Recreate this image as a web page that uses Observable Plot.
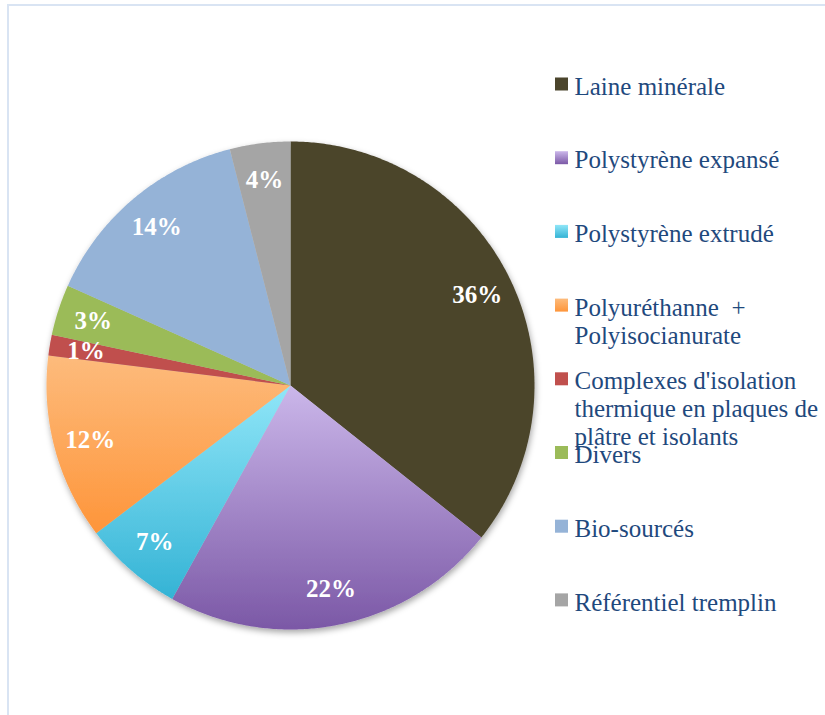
<!DOCTYPE html>
<html>
<head>
<meta charset="utf-8">
<script src="https://cdn.jsdelivr.net/npm/d3@7"></script>
<script src="https://cdn.jsdelivr.net/npm/@observablehq/plot@0.6"></script>
<style>
  html, body { margin: 0; padding: 0; background: #fff; }
  #wrap { position: relative; width: 825px; height: 715px; overflow: hidden; }
  #frame { position: absolute; left: 7px; top: 4px; right: -4px; bottom: -4px;
           border-top: 2px solid #d9e4f3; border-left: 2px solid #d9e4f3; }
  #chart { position: absolute; left: 0; top: 0; }
  #chart text { white-space: pre; }
</style>
</head>
<body>
<div id="wrap"><div id="frame"></div><div id="chart"></div></div>
<script>
// ---- data ----
const categories = [
  "Laine minérale",
  "Polystyrène expansé",
  "Polystyrène extrudé",
  "Polyuréthanne  +\nPolyisocianurate",
  "Complexes d'isolation\nthermique en plaques de\nplâtre et isolants",
  "Divers",
  "Bio-sourcés",
  "Référentiel tremplin"
];
// shares
const values = [35.7, 22.35, 6.6, 12.3, 1.37, 3.37, 14.3, 4.0];
// percentages printed on the slices
const labels = ["36%", "22%", "7%", "12%", "1%", "3%", "14%", "4%"];
const colorsTop = ["#4b452c", "#cbb7ea", "#90e6f8", "#fdbb7c", "#c0504d", "#9bbb59", "#95b3d7", "#a5a5a5"];
const colorsBottom = ["#4b452c", "#7b58a6", "#34b3d5", "#fe953a", "#c0504d", "#9bbb59", "#95b3d7", "#a5a5a5"];

// ---- layout ----
const W = 825, H = 715;
const cx = 290, cy = 385, R = 244, labelR = 0.85 * R;
const legX = 555, legSq = 13, legTextX = 574, legY0 = 84, legStep = 73.7;
const font = "'Liberation Serif', 'DejaVu Serif', serif";
const legFont = 25, lineH = 28;

const fills = categories.map((c, i) =>
  colorsTop[i] === colorsBottom[i] ? colorsTop[i] : `url(#grad${i})`);

const rows = categories.map((name, i) => ({name, value: values[i], label: labels[i], fill: fills[i], i}));
const arcs = d3.pie().sort(null).value(d => d.value).startAngle(0).endAngle(2 * Math.PI)(rows);

const pt = (a, r) => [cx + r * Math.sin(a), cy - r * Math.cos(a)];

const slicePts = [];
for (const a of arcs) {
  const n = Math.max(2, Math.ceil((a.endAngle - a.startAngle) / (Math.PI / 360)));
  slicePts.push({name: a.data.name, fill: a.data.fill, x: cx, y: cy});
  for (let k = 0; k <= n; k++) {
    const t = a.startAngle + (a.endAngle - a.startAngle) * k / n;
    const [x, y] = pt(t, R);
    slicePts.push({name: a.data.name, fill: a.data.fill, x, y});
  }
}

const labelPts = arcs.map(a => {
  const [x, y] = pt((a.startAngle + a.endAngle) / 2, labelR);
  return {x, y, text: a.data.label};
});

const legend = rows.map(d => {
  const yc = legY0 + d.i * legStep;
  return {name: d.name, fill: d.fill, x1: legX, x2: legX + legSq, y1: yc - legSq / 2, y2: yc + legSq / 2,
          tx: legTextX, ty: yc + 8 - 0.71 * legFont};
});

const svg = Plot.plot({
  width: W, height: H,
  margin: 0,
  style: {background: "transparent", overflow: "visible"},
  x: {domain: [0, W], range: [0, W], axis: null},
  y: {domain: [0, H], range: [0, H], axis: null},
  color: {type: "identity"},
  marks: [
    Plot.line(slicePts, {x: "x", y: "y", z: "name", fill: "fill", stroke: "none", curve: "linear-closed"}),
    Plot.text(labelPts, {x: "x", y: "y", text: "text", fill: "white", fontWeight: "bold",
      fontSize: 25, fontFamily: font}),
    Plot.rect(legend, {x1: "x1", x2: "x2", y1: "y1", y2: "y2", fill: "fill"}),
    Plot.text(legend, {x: "tx", y: "ty", text: "name", textAnchor: "start", lineAnchor: "top",
      lineHeight: lineH / legFont, fill: "#1f497d", fontSize: legFont, fontFamily: font})
  ]
});

let defs = `<filter id="shadow" x="-10%" y="-10%" width="120%" height="125%">
  <feDropShadow dx="1" dy="3" stdDeviation="3" flood-color="#000" flood-opacity="0.35"/></filter>`;
categories.forEach((c, i) => {
  if (colorsTop[i] !== colorsBottom[i]) {
    defs += `<linearGradient id="grad${i}" x1="0" y1="0" x2="0" y2="1">
      <stop offset="0" stop-color="${colorsTop[i]}"/><stop offset="1" stop-color="${colorsBottom[i]}"/></linearGradient>`;
  }
});
svg.insertAdjacentHTML("afterbegin", `<defs>${defs}</defs>`);
const lineG = svg.querySelector('g[aria-label="line"]');
if (lineG) lineG.setAttribute("filter", "url(#shadow)");
document.getElementById("chart").appendChild(svg);
</script>
</body>
</html>
